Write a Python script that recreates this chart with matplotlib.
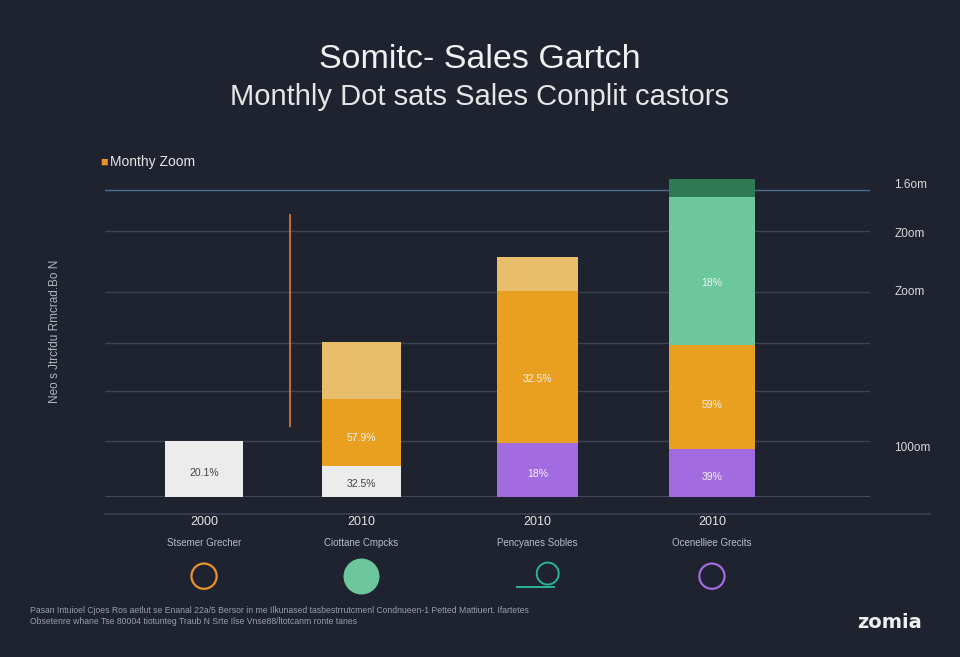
import matplotlib.pyplot as plt
from matplotlib.lines import Line2D
from matplotlib.transforms import blended_transform_factory

plt.rcParams['font.family'] = ['Liberation Sans', 'DejaVu Sans']

bg = "#1f2330"

# data
years = ["2000", "2010", "2010", "2010"]
groups = ["Stsemer Grecher", "Ciottane Cmpcks", "Pencyanes Sobles", "Ocenelliee Grecits"]
x_pos = [0, 0.93, 1.97, 3.0]
widths = [0.46, 0.47, 0.48, 0.51]

white_vals = [29.2, 16.2, 0, 0]
purple_vals = [0, 0, 28.1, 25.0]
orange_vals = [0, 34.9, 79.2, 54.2]
light_orange_vals = [0, 29.7, 17.7, 0]
green_vals = [0, 0, 0, 77.1]
dark_green_vals = [0, 0, 0, 9.4]

white_labels = ["20.1%", "32.5%", "", ""]
purple_labels = ["", "", "18%", "39%"]
orange_labels = ["", "57.9%", "32.5%", "59%"]
green_labels = ["", "", "", "18%"]

grid_vals = [160, 138.6, 106.8, 80.3, 55.2, 29.2]
right_labels = ["1.6om", "Z0om", "Zoom", "100om"]
right_label_y = [162.6, 137.0, 106.8, 25.5]

marker_line = [0.51, 36.5, 147.5]  # x, y0, y1

fig = plt.figure(figsize=(9.6, 6.57), dpi=100, facecolor=bg)
ax = fig.add_axes([0.1094, 0.2435, 0.7969, 0.4977], facecolor=bg)
ax.set_xlim(-0.585, 3.934)
ax.set_ylim(0, 170.4)
for s in ax.spines.values():
    s.set_visible(False)
ax.set_xticks([])
ax.set_yticks([])

# grid
for i, g in enumerate(grid_vals):
    ax.axhline(g, color="#4d6f8f" if i == 0 else "#3b4252", lw=1, zorder=0)
ax.axhline(0, color="#4a5060", lw=1.2, zorder=0)

# stacked bars
bottom = [0, 0, 0, 0]
series = [
    (white_vals, "#ececec", white_labels, "#444444"),
    (purple_vals, "#a36be0", purple_labels, "#f2f2f2"),
    (orange_vals, "#e99f20", orange_labels, "#f2f2f2"),
    (light_orange_vals, "#e8bd6c", None, None),
    (green_vals, "#6cc79d", green_labels, "#f2f2f2"),
    (dark_green_vals, "#2f7a55", None, None),
]
for vals, col, labs, tcol in series:
    ax.bar(x_pos, vals, width=widths, bottom=bottom, color=col, zorder=2)
    for i, v in enumerate(vals):
        if labs and labs[i]:
            ax.text(x_pos[i], bottom[i] + v * 0.42, labs[i], ha="center", va="center",
                    fontsize=7.5, color=tcol, zorder=3)
    bottom = [b + v for b, v in zip(bottom, vals)]

ax.vlines(marker_line[0], marker_line[1], marker_line[2], color="#e07a2a", lw=1.2, zorder=3)

# right labels
for lab, y in zip(right_labels, right_label_y):
    ax.text(1.032, y, lab, transform=blended_transform_factory(ax.transAxes, ax.transData),
            fontsize=8.5, color="#d8d8d8", ha="left", va="center")

# lower line
fig.add_artist(Line2D([0.109, 0.969], [0.2177, 0.2177], color="#3b4252", lw=1.2))

tr = blended_transform_factory(ax.transData, fig.transFigure)
for x, yr, g in zip(x_pos, years, groups):
    ax.text(x, 0.205, yr, transform=tr, ha="center", va="center", fontsize=9, color="#e6e6e6")
    ax.text(x, 0.1735, g, transform=tr, ha="center", va="center", fontsize=7, color="#b8bcc6")

ax.scatter([x_pos[0]], [0.123], transform=tr, s=330, facecolor="none", edgecolor="#e8922a",
           lw=1.6, clip_on=False)
ax.scatter([x_pos[1]], [0.123], transform=tr, s=620, color="#6cc79d", clip_on=False)
ax.scatter([x_pos[2] + 0.06], [0.127], transform=tr, s=250, facecolor="none", edgecolor="#2bb39a",
           lw=1.4, clip_on=False)
ax.plot([x_pos[2] - 0.12, x_pos[2] + 0.1], [0.107, 0.107], transform=tr, color="#2bb39a",
        lw=1.4, clip_on=False)
ax.scatter([x_pos[3]], [0.123], transform=tr, s=330, facecolor="none", edgecolor="#a36be0",
           lw=1.6, clip_on=False)

# titles
fig.text(0.5, 0.91, "Somitc- Sales Gartch", ha="center", va="center", fontsize=24.5,
         color="#f0f0f0", fontweight="medium")
fig.text(0.5, 0.853, "Monthly Dot sats Sales Conplit castors", ha="center", va="center",
         fontsize=21, color="#e6e6e6")

# legend
fig.text(0.104, 0.753, "\u25a0", color="#e8922a", fontsize=9, ha="left", va="center")
fig.text(0.115, 0.753, "Monthy Zoom", color="#e6e6e6", fontsize=10, ha="left", va="center")

# y label
fig.text(0.057, 0.495, "Neo s Jtrcfdu Rmcrad.Bo N", rotation=90, ha="center", va="center",
         fontsize=8.5, color="#b0b4bc")

# footnote
fig.text(0.031, 0.0715, "Pasan Intuioel Cjoes Ros aetlut se Enanal 22a/5 Bersor in me Ilkunased "
         "tasbestrrutcmenl Condnueen-1 Petted Mattiuert. Ifartetes",
         fontsize=6.2, color="#9a9ea8", ha="left", va="center")
fig.text(0.031, 0.0533, "Obsetenre whane Tse 80004 tiotunteg Traub N Srte Ilse Vnse88/ltotcanm ronte tanes",
         fontsize=6.2, color="#9a9ea8", ha="left", va="center")
fig.text(0.927, 0.053, "zomia", fontsize=14, fontweight="bold", color="#f0f0f0", ha="center",
         va="center", family="DejaVu Sans")

fig.savefig("out.png", dpi=100, facecolor=bg)
